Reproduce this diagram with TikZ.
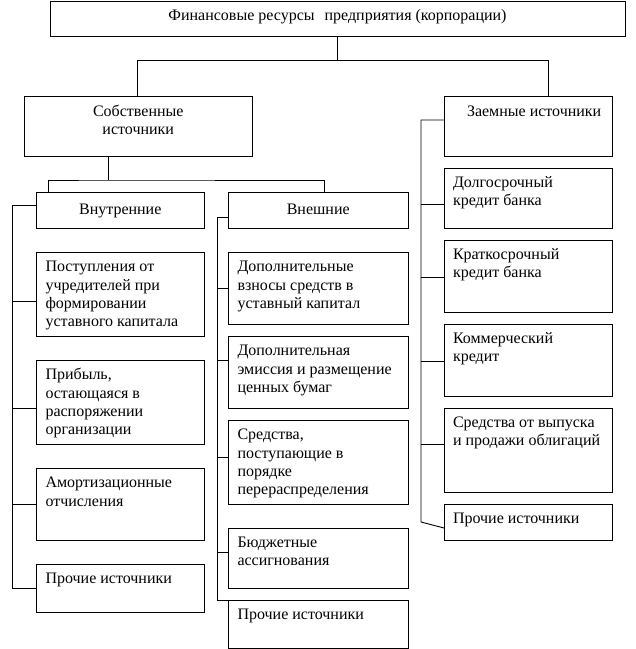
\documentclass[tikz,border=0pt]{standalone}
\usepackage{fontspec}
\setmainfont{Liberation Serif}
\usetikzlibrary{calc}
\tikzset{
  boxst/.style={draw, line width=0.9pt, inner sep=0pt, outer sep=0pt},
  txt/.style={inner sep=0pt, outer sep=0pt, font=\fontsize{16}{18.4}\selectfont},
  conn/.style={line width=0.9pt},
}
% name, left, top, right, bottom, text lines
\newcommand\lbox[6]{%
  \node[boxst, minimum width={#4-#2}, minimum height={#5-#3}, anchor=north west] (#1) at (#2,#3) {};
  \node[txt, anchor=base west] (#1-t) at ($(#1.north west)+(9,19.2)$) {\begin{tabular}[t]{@{}l@{}}#6\end{tabular}};}
% name, left, top, right, bottom, baseline offset, text lines (centred)
\newcommand\cbox[7]{%
  \node[boxst, minimum width={#4-#2}, minimum height={#5-#3}, anchor=north west] (#1) at (#2,#3) {};
  \node[txt, anchor=base] (#1-t) at ($(#1.north)+(0,#6)$) {\begin{tabular}[t]{@{}c@{}}#7\end{tabular}};}
\begin{document}
\begin{tikzpicture}[x=1pt, y=-1pt]
\useasboundingbox (0,0) rectangle (636,649);
\renewcommand{\arraystretch}{1}
% top level
\cbox{top}{50}{1.5}{625}{36.5}{19}{Финансовые ресурсы\hspace{10pt}предприятия (корпорации)}
\cbox{sob}{24.5}{96.5}{252}{156.5}{19.5}{Собственные\\источники}
\node[boxst, minimum width={612.5-444}, minimum height={60}, anchor=north west] (zaem) at (444,96.5) {};
\node[txt, anchor=base west] (zaem-t) at ($(zaem.north west)+(23,19.5)$) {Заемные источники};
\cbox{vnut}{36.5}{192.5}{204}{228}{21.5}{Внутренние}
\cbox{vnesh}{228.5}{192.5}{408}{228}{21.5}{Внешние}
% internal sources
\lbox{p1}{36.5}{252.5}{204}{336.5}{Поступления от\\учредителей при\\формировании\\уставного капитала}
\lbox{p2}{36.5}{360.5}{204}{444.5}{Прибыль,\\остающаяся в\\распоряжении\\организации}
\lbox{p3}{36.5}{468.5}{204}{540}{Амортизационные\\отчисления}
\lbox{p4}{36.5}{564}{204}{612}{Прочие источники}
% external sources
\lbox{e1}{228.5}{252.5}{408}{324.5}{Дополнительные\\взносы средств в\\уставный капитал}
\lbox{e2}{228.5}{336.5}{408}{408.5}{Дополнительная\\эмиссия и размещение\\ценных бумаг}
\lbox{e3}{228.5}{420.5}{408}{504}{Средства,\\поступающие в\\порядке\\перераспределения}
\lbox{e4}{228.5}{528}{408}{588}{Бюджетные\\ассигнования}
\lbox{e5}{228.5}{600}{408}{648}{Прочие источники}
% loan sources
\lbox{z1}{444}{168}{612.5}{228}{Долгосрочный\\кредит банка}
\lbox{z2}{444}{240}{612.5}{312}{Краткосрочный\\кредит банка}
\lbox{z3}{444}{324}{612.5}{396}{Коммерческий\\кредит}
\lbox{z4}{444}{408}{612.5}{492}{Средства от выпуска\\и продажи облигаций}
\lbox{z5}{444}{504}{612.5}{540}{Прочие источники}
% bus coordinates
\coordinate (j1) at (337,60.5);
\coordinate (j2) at (108,180);
\coordinate (ibus) at (12.5,0);
\coordinate (ebus) at (217,0);
\coordinate (zbus) at (421,0);
% top connectors
\draw[conn] (top.south -| j1) -- (j1);
\draw[conn] (sob.north -| 137.5,0) |- (j1) -| (zaem.north -| 548,0);
% own sources split
\draw[conn] (sob.south -| j2) -- (j2);
\draw[conn] (vnut.north -| 48,0) |- (j2) -| (vnesh.north -| 324,0);
% internal bus
\draw[conn] ([yshift=5pt]vnut.west) -| (ibus |- p4.west) -- (p4.west);
\draw[conn] ([yshift=-6.5pt]p1.west) -- ([yshift=-6.5pt]p1.west -| ibus);
\draw[conn] ([yshift=-5.5pt]p2.west) -- ([yshift=-5.5pt]p2.west -| ibus);
\draw[conn] (p3.west) -- (p3.west -| ibus);
% external bus
\draw[conn] ([yshift=-7pt]vnesh.west) -| (ebus |- e5.north west) -- ++(11.5,0);
\draw[conn] (e1.west) -- (e1.west -| ebus);
\draw[conn] ([yshift=12.5pt]e2.west) -- ([yshift=12.5pt]e2.west -| ebus);
\draw[conn] ([yshift=5pt]e3.west) -- ([yshift=5pt]e3.west -| ebus);
\draw[conn] ([yshift=6pt]e4.west) -- ([yshift=6pt]e4.west -| ebus);
% loan bus
\draw[conn] ([yshift=6.5pt]zaem.west) -| (zbus |- z5.west) -- ([yshift=-6pt]z5.west);
\draw[conn] ([yshift=-6pt]z1.west) -- ([yshift=-6pt]z1.west -| zbus);
\draw[conn] ([yshift=-1pt]z2.west) -- ([yshift=-1pt]z2.west -| zbus);
\draw[conn] ([yshift=-1pt]z3.west) -- ([yshift=-1pt]z3.west -| zbus);
\draw[conn] ([yshift=6pt]z4.west) -- ([yshift=6pt]z4.west -| zbus);
\end{tikzpicture}
\end{document}
